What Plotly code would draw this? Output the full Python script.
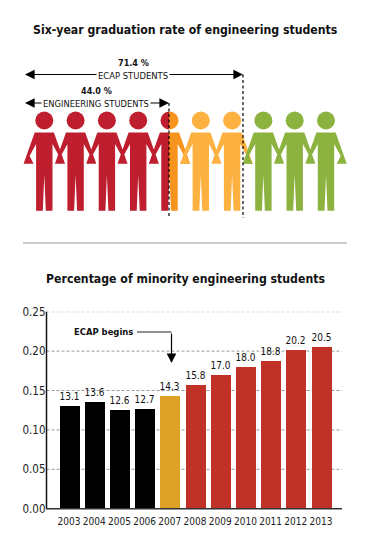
import plotly.graph_objects as go

# ---- data ----
years = ["2003","2004","2005","2006","2007","2008","2009","2010","2011","2012","2013"]
pct_labels = [13.1,13.6,12.6,12.7,14.3,15.8,17.0,18.0,18.8,20.2,20.5]
bar_colors = ["#000000"]*4 + ["#DDA128"] + ["#C03228"]*6
y_ticks = [0,0.05,0.10,0.15,0.20,0.25]

person_x_red = [44.3,75.6,106.9,138.2,169.5]
person_x_mid = [169.5]
person_x_orange = [200.8,232.1]
person_x_green = [263.4,294.7,326.0]
divider_eng = 169
divider_ecap = 243

# person silhouette outline, relative to the person's centre / absolute height (px)
outline_dx = [-9.6,9.6,20.7,10.7,14.7,8.2,8.2,1.5,0,-1.5,-8.2,-8.2,-14.7,-10.7,-20.7,-9.6]
outline_y  = [132.6,132.6,163.8,163.8,156,144,210.7,210.7,175,210.7,210.7,144,156,163.8,163.8,132.6]
head_y = 120.5
head_size = 18

FONT = "'DejaVu Sans Condensed', 'Liberation Sans', sans-serif"
RED, DARK_OR, OR, GREEN = "#BE1E2D", "#F7941E", "#FDB140", "#8CB23F"
W, H = 370, 555

fig = go.Figure()

# bar chart
fig.add_bar(x=[int(y) for y in years], y=[v/100 for v in pct_labels], width=0.794,
            marker=dict(color=bar_colors, line=dict(width=0)),
            text=[f"{v:.1f}" for v in pct_labels], textposition="outside", cliponaxis=False,
            textfont=dict(family=FONT, size=11, color="#111"), hoverinfo="skip", showlegend=False)

def people(xs, color, xa):
    px, py = [], []
    for c in xs:
        px += [c+d for d in outline_dx] + [None]
        py += outline_y + [None]
    fig.add_scatter(x=px, y=py, xaxis=xa, yaxis="y2", mode="lines", fill="toself",
                    fillcolor=color, line=dict(width=0, color=color), hoverinfo="skip", showlegend=False)
    fig.add_scatter(x=xs, y=[head_y]*len(xs), xaxis=xa, yaxis="y2", mode="markers",
                    marker=dict(size=head_size, color=color, line=dict(width=0)), hoverinfo="skip", showlegend=False)

people(person_x_orange, OR, "x4")
people(person_x_red, RED, "x2")
people(person_x_mid, DARK_OR, "x3")
people(person_x_green, GREEN, "x5")

hidden = dict(visible=False, fixedrange=True, automargin=False)
fig.update_layout(
    template="none",
    width=W, height=H, margin=dict(l=0,r=0,t=0,b=0,pad=0,autoexpand=False), paper_bgcolor="white", plot_bgcolor="rgba(0,0,0,0)",
    bargap=0, showlegend=False,
    xaxis=dict(domain=[46.5/W,342/W], range=[2002.107,2013.833], tickmode="array", automargin=False,
               tickvals=[int(y) for y in years], ticktext=years, showgrid=False, zeroline=False,
               showline=False, ticks="", tickangle=0, tickfont=dict(family=FONT,size=10,color="#222"), ticklabelstandoff=5),
    yaxis=dict(domain=[(H-508.7)/H,(H-311.7)/H], range=[0,0.25], tickmode="array", tickvals=y_ticks, automargin=False,
               ticktext=[f"{t:.2f}" for t in y_ticks], showgrid=False, zeroline=False, showline=False, ticks="",
               tickfont=dict(family=FONT,size=11.5,color="#222")),
    yaxis2=dict(domain=[0,1], range=[H,0], **hidden),
    xaxis2=dict(domain=[0,divider_eng/W], range=[0,divider_eng], anchor="y2", **hidden),
    xaxis3=dict(domain=[divider_eng/W,1], range=[divider_eng,W], anchor="y2", **hidden),
    xaxis4=dict(domain=[0,1], range=[0,W], anchor="y2", **hidden),
    xaxis5=dict(domain=[0,1], range=[0,W], anchor="y2", **hidden),
)

for t in y_ticks[1:]:
    fig.add_shape(type="line", xref="x domain", yref="y", x0=0, x1=1, y0=t, y1=t,
                  line=dict(color="#999", width=1, dash="3px,2px"), layer="below")

def line(x0,y0,x1,y1,color="#000",width=1.2,dash="solid"):
    fig.add_shape(type="line",xref="x4",yref="y2",x0=x0,y0=y0,x1=x1,y1=y1,
                  line=dict(color=color,width=width,dash=dash),layer="above")

line(divider_eng,103,divider_eng,218,dash="3px,2.5px")
line(divider_ecap,74.5,divider_ecap,218,dash="3px,2.5px")
line(23,243,347,243,color="#999",width=1.2)
line(46.5,311.7,46.5,509,color="#111",width=1.5)
line(46,508.7,342,508.7,color="#333",width=1.6)
line(137,332,171.5,332,color="#222",width=1.2)

def text(x,y,s,size,bold=False,bg=None,color="#111"):
    fig.add_annotation(xref="x4",yref="y2",x=x,y=y,text=f"<b>{s}</b>" if bold else s,showarrow=False,
                       font=dict(family=FONT,size=size,color=color),
                       bgcolor=bg,borderpad=1,xanchor="center",yanchor="middle")

def arrow(x0,y0,x1,y1,both=False):
    fig.add_annotation(xref="x4",yref="y2",axref="x4",ayref="y2",x=x1,y=y1,ax=x0,ay=y0,text="",
                       showarrow=True,arrowhead=2,arrowsize=1.6,arrowwidth=1.2,arrowcolor="#000",
                       arrowside="end+start" if both else "end",standoff=0,startstandoff=0,startarrowhead=2,startarrowsize=1.6)

arrow(23.5,74.5,243,74.5,True)
arrow(23.5,103,169,103,True)
arrow(171.5,332,171.5,363)

text(185,30,"Six-year graduation rate of engineering students",12.2,True)
text(185,279,"Percentage of minority engineering students",12.2,True)
text(133,63,"71.4 %",9,True)
text(96,91,"44.0 %",9,True)
text(133,75,"ECAP STUDENTS",9.4,False,"white")
text(96,103,"ENGINEERING STUDENTS",9.3,False,"white")
text(103.5,331.5,"ECAP begins",9.4,True)

fig.write_html("out.html", config={"displayModeBar":False}, post_script="document.body.style.margin='0';")
